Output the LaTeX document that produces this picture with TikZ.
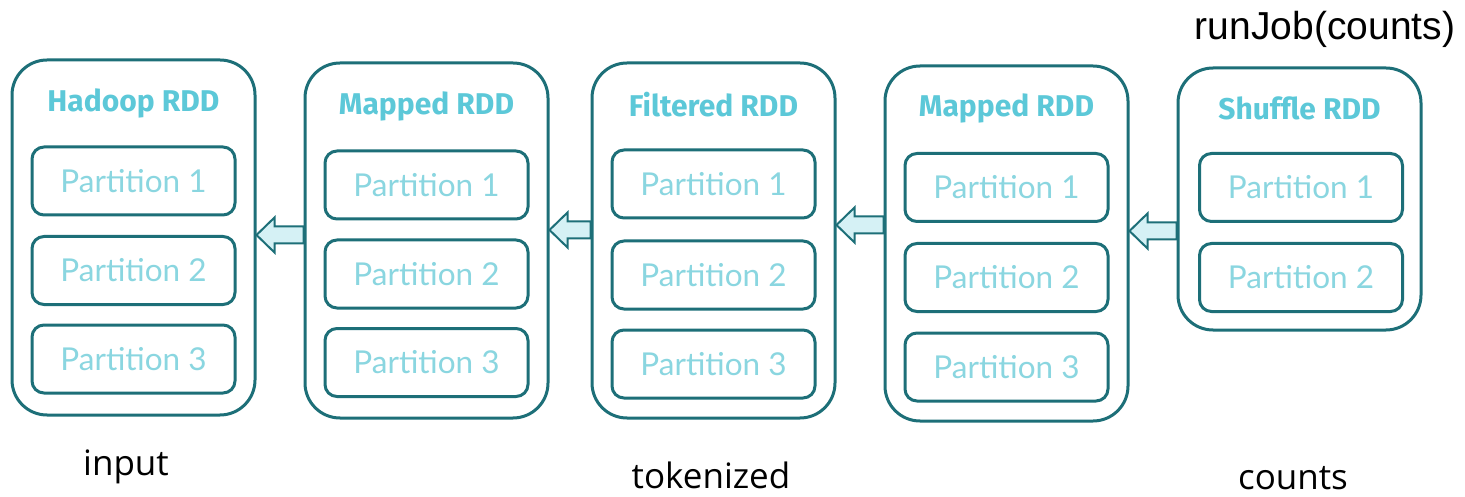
\documentclass[tikz,border=0pt]{standalone}
\usepackage{fontspec}
\setmainfont{Lato}
\newfontfamily\titlefont{Fira Sans}
\newfontfamily\labelfont{Open Sans}
\newfontfamily\arialfont{Liberation Sans}
\usetikzlibrary{calc}
\definecolor{tealline}{HTML}{1D6F78}
\definecolor{titlecol}{HTML}{5CC8D8}
\definecolor{partcol}{HTML}{8AD6E0}
\definecolor{arrowfill}{HTML}{D5F1F5}
\tikzset{
  rddbox/.style={draw=tealline, line width=3pt, rounded corners=35pt, minimum width=243pt, inner sep=0pt},
  partbox/.style={draw=tealline, line width=3pt, rounded corners=12pt, minimum width=203pt, minimum height=68pt, inner sep=0pt,
    font=\fontsize{31.5}{31.5}\selectfont, text=partcol},
  rddtitle/.style={font=\titlefont\bfseries\fontsize{30}{30}\selectfont, text=titlecol, inner sep=0pt},
  bottomlabel/.style={font=\labelfont\fontsize{35}{35}\selectfont, text=black, inner sep=0pt, anchor=base},
  bigarrow/.style={draw=tealline, line width=2pt, fill=arrowfill, line join=miter}
}
\newcommand{\fatarrow}[3]{%
  \draw[bigarrow] let \p1=(#1.west), \p2=(#2.east), \p3=(0,#3) in
    (\x2,\y3) -- (\x2+18pt,\y3+17.5pt) -- (\x2+18pt,\y3+8.5pt) -- (\x1,\y3+8.5pt)
    -- (\x1,\y3-8.5pt) -- (\x2+18pt,\y3-8.5pt) -- (\x2+18pt,\y3-17.5pt) -- cycle;}
\begin{document}
\begin{tikzpicture}[x=1pt,y=-1pt]
\useasboundingbox[fill=white] (0,0) rectangle (1465,497);
% RDD boxes
\node[rddbox, minimum height=355pt] (b1) at (133.5,237.5) {};
\node[rddbox, minimum height=355pt] (b2) at (426.5,240.5) {};
\node[rddbox, minimum height=355pt] (b3) at (713.5,240.5) {};
\node[rddbox, minimum height=355pt] (b4) at (1006.5,243.5) {};
\node[rddbox, minimum height=262pt] (b5) at (1299.5,199) {};
% titles
\node[rddtitle] (t1) at (133.5,103) {Hadoop RDD};
\node[rddtitle] (t2) at (426.5,106) {Mapped RDD};
\node[rddtitle] (t3) at (713.5,105) {Filtered RDD};
\node[rddtitle] (t4) at (1006.5,108) {Mapped RDD};
\node[rddtitle] (t5) at (1299.5,108) {Shuffle RDD};
% partitions
\node[partbox] (p11) at (133.5,181) {Partition 1};
\node[partbox] (p12) at (133.5,270.5) {Partition 2};
\node[partbox] (p13) at (133.5,359) {Partition 3};
\node[partbox] (p21) at (426.5,185) {Partition 1};
\node[partbox] (p22) at (426.5,274) {Partition 2};
\node[partbox] (p23) at (426.5,362.5) {Partition 3};
\node[partbox] (p31) at (713.5,184) {Partition 1};
\node[partbox] (p32) at (713.5,275) {Partition 2};
\node[partbox] (p33) at (713.5,364) {Partition 3};
\node[partbox] (p41) at (1006.5,187.5) {Partition 1};
\node[partbox] (p42) at (1006.5,277.5) {Partition 2};
\node[partbox] (p43) at (1006.5,367) {Partition 3};
\node[partbox] (p51) at (1301,187.5) {Partition 1};
\node[partbox] (p52) at (1301,277.5) {Partition 2};
% arrows
\fatarrow{b2}{b1}{235}
\fatarrow{b3}{b2}{230}
\fatarrow{b4}{b3}{225}
\fatarrow{b5}{b4}{231}
% labels
\node[bottomlabel] (l1) at (126,475) {input};
\node[bottomlabel] (l2) at (711,488) {tokenized};
\node[bottomlabel] (l3) at (1293,489) {counts};
\node[font=\arialfont\fontsize{39}{39}\selectfont, anchor=base, inner sep=0pt] (rj) at (1325,40) {runJob(counts)};
\end{tikzpicture}
\end{document}
